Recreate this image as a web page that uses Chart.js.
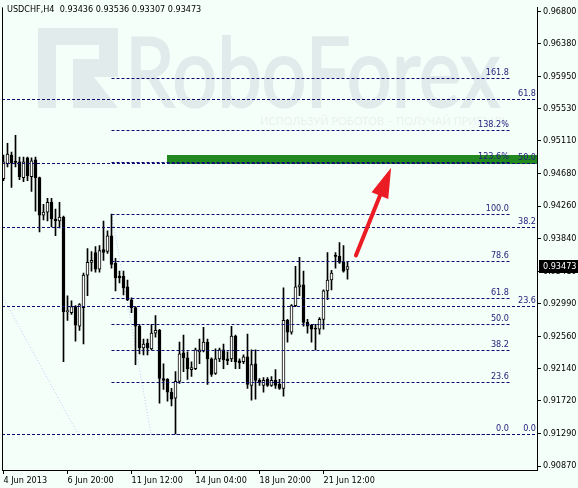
<!DOCTYPE html>
<html>
<head>
<meta charset="utf-8">
<script src="https://cdn.jsdelivr.net/npm/chart.js@4.4.1/dist/chart.umd.min.js"></script>
<style>
html,body{margin:0;padding:0;background:#f5fffa;}
canvas{display:block;}
</style>
</head>
<body>
<canvas id="c" width="578" height="488"></canvas>
<script>
// ---------- data ----------
const symbolTitle = "USDCHF,H4  0.93436 0.93536 0.93307 0.93473";
const opens  = [0.94618,0.94811,0.94926,0.94836,0.94836,0.94631,0.94888,0.94644,0.94862,0.94631,
                0.94143,0.94182,0.94310,0.94092,0.94066,0.94117,0.92885,0.92872,0.92950,0.92693,
                0.92937,0.93360,0.93527,0.93655,0.93437,0.93694,0.93668,0.93874,0.93514,0.93347,
                0.93347,0.93206,0.93039,0.92937,0.92693,0.92410,0.92475,0.92398,0.92603,0.92641,
                0.92012,0.92000,0.91833,0.91756,0.91974,0.92346,0.92282,0.92128,0.92141,0.92359,
                0.92372,0.92487,0.92269,0.92077,0.92269,0.92385,0.92269,0.92269,0.92564,0.92244,
                0.92231,0.92295,0.91923,0.92205,0.91987,0.91923,0.92000,0.91923,0.91987,0.91935,
                0.91884,0.92770,0.92616,0.92962,0.93206,0.93232,0.92744,0.92706,0.92667,0.92654,
                0.92783,0.93155,0.93296,0.93617,0.93604,0.93527,0.93436];
const highs  = [0.94926,0.95080,0.94965,0.95183,0.94900,0.94900,0.94900,0.94888,0.94900,0.94640,
                0.94284,0.94361,0.94361,0.94220,0.94310,0.94130,0.93091,0.93026,0.92962,0.92988,
                0.93386,0.93707,0.93668,0.93732,0.93745,0.94066,0.93938,0.94156,0.93578,0.93412,
                0.93412,0.93296,0.93065,0.92950,0.92718,0.92526,0.92526,0.92718,0.92834,0.92654,
                0.92205,0.92010,0.91884,0.92102,0.92487,0.92577,0.92359,0.92231,0.92410,0.92526,
                0.92680,0.92526,0.92282,0.92398,0.92410,0.92462,0.92359,0.92693,0.92577,0.92269,
                0.92321,0.92590,0.92385,0.92385,0.92012,0.92025,0.92025,0.92038,0.92128,0.92000,
                0.93193,0.92783,0.92975,0.93476,0.93591,0.93412,0.92783,0.92718,0.92718,0.92808,
                0.93168,0.93655,0.93424,0.93655,0.93784,0.93745,0.93536];
const lows   = [0.94592,0.94772,0.94503,0.94772,0.94605,0.94580,0.94592,0.94451,0.94194,0.93925,
                0.94079,0.94066,0.93989,0.93874,0.93976,0.92231,0.92770,0.92847,0.92500,0.92640,
                0.92462,0.93091,0.93412,0.93399,0.93399,0.93553,0.93643,0.93450,0.93155,0.93258,
                0.93103,0.93026,0.92872,0.92192,0.92333,0.92321,0.92321,0.92385,0.92552,0.91692,
                0.91871,0.91717,0.91653,0.91290,0.91948,0.92102,0.92000,0.92038,0.92128,0.92205,
                0.92359,0.91935,0.92038,0.92064,0.92231,0.92141,0.92192,0.92231,0.92141,0.92141,
                0.92205,0.91884,0.91730,0.91743,0.91923,0.91833,0.91910,0.91910,0.91884,0.91870,
                0.91781,0.92487,0.92590,0.92950,0.93091,0.92693,0.92603,0.92487,0.92385,0.92590,
                0.92654,0.93039,0.93168,0.93450,0.93514,0.93399,0.93307];
const closes = [0.94836,0.94939,0.94823,0.94830,0.94644,0.94836,0.94656,0.94849,0.94631,0.94143,
                0.94182,0.94310,0.94092,0.94066,0.94117,0.92885,0.92898,0.92950,0.92706,0.92975,
                0.93360,0.93527,0.93553,0.93437,0.93681,0.93655,0.93874,0.93501,0.93322,0.93322,
                0.93193,0.93039,0.92937,0.92693,0.92410,0.92462,0.92410,0.92603,0.92641,0.92012,
                0.91987,0.91833,0.91743,0.91974,0.92333,0.92282,0.92141,0.92154,0.92385,0.92385,
                0.92487,0.92269,0.92064,0.92269,0.92385,0.92256,0.92244,0.92564,0.92231,0.92218,
                0.92295,0.91935,0.92192,0.91987,0.91961,0.91987,0.91923,0.91987,0.91923,0.91884,
                0.92770,0.92616,0.92962,0.93206,0.93232,0.92744,0.92693,0.92654,0.92654,0.92783,
                0.93155,0.93296,0.93386,0.93604,0.93527,0.93412,0.93473];

const yTickValues = [0.96800,0.96380,0.95950,0.95530,0.95110,0.94680,0.94260,0.93840,
                     0.93410,0.92990,0.92560,0.92140,0.91720,0.91290,0.90870];
const xTickBars   = [0,16,32,48,64,80];
const xTickLabels = ["4 Jun 2013","6 Jun 20:00","11 Jun 12:00","14 Jun 04:00","18 Jun 20:00","21 Jun 12:00"];

// Fibonacci grid A (long-term): anchors and levels
const fibAHigh = 0.98356, fibALow = 0.91290;
const fibALevels = [0, 23.6, 38.2, 50.0, 61.8];
const fibALabels = ["0.0","23.6","38.2","50.0","61.8"];
const fibAAnchorBars = [-55.7, 18.6];
// Fibonacci grid B (short-term)
const fibBHigh = 0.94156, fibBLow = 0.91290;
const fibBLevels = [0, 23.6, 38.2, 50.0, 61.8, 78.6, 100.0, 123.6, 138.2, 161.8];
const fibBLabels = ["0.0","23.6","38.2","50.0","61.8","78.6","100.0","123.6%","138.2%","161.8"];
const fibBAnchorBars = [27, 36.9];
const fibBEndBar = 126.6;
// target zone and arrow
const zoneTop = 0.94926, zoneBottom = 0.94811, zoneStartBar = 40.9;
const arrowFrom = [88.1, 0.93617], arrowTo = [96.9, 0.94759];
const lastPrice = 0.93473;

const Y_MIN = 0.90819, Y_MAX = 0.96851;
const FONT = '"DejaVu Sans Condensed", "Liberation Sans", sans-serif';
const LINE_COL = '#0c0c70';
const TEXT_COL = '#22227c';

// ---------- plugins ----------
const backgroundPlugin = {
  id: 'bgwm',
  beforeDraw(chart) {
    const ctx = chart.ctx;
    ctx.save();
    ctx.fillStyle = '#f5fffa';
    ctx.fillRect(0, 0, chart.width, chart.height);
    // watermark logo
    ctx.fillStyle = '#e1ebeb';
    ctx.strokeStyle = '#e1ebeb';
    ctx.fillRect(38, 28, 18, 80);
    ctx.fillRect(38, 28, 80, 17);
    ctx.fillRect(99, 28, 19, 49);
    ctx.fillRect(73, 59, 45, 18);
    ctx.beginPath();
    ctx.moveTo(73, 77); ctx.lineTo(94, 77); ctx.lineTo(118, 108); ctx.lineTo(73, 108);
    ctx.closePath(); ctx.fill();
    ctx.font = '97px Lato, "Open Sans", sans-serif';
    ctx.textBaseline = 'alphabetic';
    ctx.textAlign = 'left';
    ctx.lineWidth = 2;
    ctx.fillText('RoboForex', 125, 107, 375);
    ctx.strokeText('RoboForex', 125, 107, 375);
    ctx.fillStyle = '#e9f1f0';
    ctx.font = '11px Lato, "Open Sans", sans-serif';
    ctx.fillText('ИСПОЛЬЗУЙ РОБОТОВ – ПОЛУЧАЙ ПРИБЫЛЬ', 260, 125, 258);
    ctx.restore();
  }
};

function dashedH(ctx, x1, x2, y) {
  const yy = Math.round(y) + 0.5;
  ctx.beginPath();
  ctx.moveTo(x1, yy); ctx.lineTo(x2, yy);
  ctx.stroke();
}

const underPlugin = {
  id: 'under',
  beforeDatasetsDraw(chart) {
    const {ctx, chartArea: a, scales: {x, y}} = chart;
    ctx.save();
    ctx.beginPath(); ctx.rect(a.left, a.top, a.right - a.left, a.bottom - a.top); ctx.clip();
    // faint fib trend lines
    ctx.strokeStyle = 'rgba(170,185,235,0.75)';
    ctx.lineWidth = 1;
    ctx.setLineDash([1, 2]);
    ctx.beginPath();
    ctx.moveTo(x.getPixelForValue(fibAAnchorBars[0]), y.getPixelForValue(fibAHigh));
    ctx.lineTo(x.getPixelForValue(fibAAnchorBars[1]), y.getPixelForValue(fibALow));
    ctx.stroke();
    ctx.beginPath();
    ctx.moveTo(x.getPixelForValue(fibBAnchorBars[0]), y.getPixelForValue(fibBHigh));
    ctx.lineTo(x.getPixelForValue(fibBAnchorBars[1]), y.getPixelForValue(fibBLow));
    ctx.stroke();
    ctx.setLineDash([]);
    // green target zone
    ctx.fillStyle = '#21891f';
    const zx = x.getPixelForValue(zoneStartBar);
    const zt = y.getPixelForValue(zoneTop), zb = y.getPixelForValue(zoneBottom);
    ctx.fillRect(Math.round(zx), Math.round(zt), a.right - Math.round(zx), Math.round(zb) - Math.round(zt));
    ctx.restore();
  },
  afterDatasetsDraw(chart) {
    const {ctx, chartArea: a, scales: {x, y}} = chart;
    ctx.save();
    ctx.beginPath(); ctx.rect(a.left, a.top, a.right - a.left, a.bottom - a.top); ctx.clip();
    ctx.strokeStyle = LINE_COL;
    ctx.lineWidth = 1;
    ctx.setLineDash([3, 2]);
    ctx.font = '9px ' + FONT;
    ctx.fillStyle = TEXT_COL;
    ctx.textAlign = 'right';
    ctx.textBaseline = 'bottom';
    // grid A
    fibALevels.forEach((lv, k) => {
      const py = y.getPixelForValue(fibALow + (fibAHigh - fibALow) * lv / 100);
      dashedH(ctx, a.left, a.right, py);
      ctx.fillText(fibALabels[k], a.right - 1, Math.round(py) - 1);
    });
    // grid B
    const bx1 = x.getPixelForValue(fibBAnchorBars[0]);
    const bx2 = x.getPixelForValue(fibBEndBar);
    fibBLevels.forEach((lv, k) => {
      const py = y.getPixelForValue(fibBLow + (fibBHigh - fibBLow) * lv / 100);
      dashedH(ctx, bx1, bx2, py);
      ctx.fillText(fibBLabels[k], bx2 - 1, Math.round(py) - 1);
    });
    ctx.setLineDash([]);
    // red arrow
    const x1 = x.getPixelForValue(arrowFrom[0]), y1 = y.getPixelForValue(arrowFrom[1]);
    const x2 = x.getPixelForValue(arrowTo[0]), y2 = y.getPixelForValue(arrowTo[1]);
    const dx = x2 - x1, dy = y2 - y1, len = Math.hypot(dx, dy);
    const ux = dx / len, uy = dy / len;
    const headLen = 30, headHalf = 9;
    const bxp = x2 - ux * headLen, byp = y2 - uy * headLen;
    ctx.strokeStyle = '#ec1c24';
    ctx.fillStyle = '#ec1c24';
    ctx.lineWidth = 4;
    ctx.lineCap = 'round';
    ctx.beginPath();
    ctx.moveTo(x1, y1); ctx.lineTo(bxp + ux * 4, byp + uy * 4);
    ctx.stroke();
    ctx.beginPath();
    ctx.moveTo(x2, y2);
    ctx.lineTo(bxp - uy * headHalf, byp + ux * headHalf);
    ctx.lineTo(bxp + uy * headHalf, byp - ux * headHalf);
    ctx.closePath();
    ctx.fill();
    ctx.restore();
  },
  afterDraw(chart) {
    const {ctx, chartArea: a, scales: {y}} = chart;
    ctx.save();
    // frame left
    ctx.strokeStyle = '#000';
    ctx.lineWidth = 1;
    ctx.beginPath();
    ctx.moveTo(a.left + 0.5, a.bottom); ctx.lineTo(a.left + 0.5, a.top);
    ctx.stroke();
    // title
    ctx.fillStyle = '#000';
    ctx.font = '9px ' + FONT;
    ctx.textAlign = 'left';
    ctx.textBaseline = 'middle';
    ctx.fillText(symbolTitle, 7, 10);
    // last price marker
    const py = Math.round(y.getPixelForValue(lastPrice));
    ctx.fillStyle = '#000';
    ctx.fillRect(a.right + 2, py - 6, chart.width - a.right - 2, 13);
    ctx.fillStyle = '#fff';
    ctx.fillText(lastPrice.toFixed(5), a.right + 6, py + 0.5);
    ctx.restore();
  }
};

// ---------- chart ----------
const wickData = highs.map((h, i) => ({x: i, y: [lows[i], h]}));
const bodyData = opens.map((o, i) => ({x: i, y: [o, closes[i]]}));
const bodyColors = opens.map((o, i) => closes[i] >= o ? '#ffffff' : '#000000');

new Chart(document.getElementById('c'), {
  type: 'bar',
  data: {
    datasets: [
      {label: 'body', data: bodyData, backgroundColor: bodyColors, borderColor: '#000', borderWidth: 1,
       borderSkipped: false, barThickness: 3, minBarLength: 1, grouped: false, order: 0},
      {label: 'wick', data: wickData, backgroundColor: '#000', borderWidth: 0,
       barThickness: 1, minBarLength: 1, grouped: false, order: 1}
    ]
  },
  options: {
    responsive: false,
    animation: false,
    events: [],
    layout: {padding: {left: 2, top: 0, right: 0, bottom: 0}},
    plugins: {legend: {display: false}, tooltip: {enabled: false}, title: {display: false}},
    scales: {
      x: {
        type: 'linear', min: -0.375, max: 133.375, offset: false,
        grid: {drawOnChartArea: false, drawTicks: true, tickLength: 4, color: '#000', offset: false},
        border: {display: true, color: '#000'},
        afterBuildTicks: s => { s.ticks = xTickBars.map(v => ({value: v})); },
        afterFit: s => { s.height = 18; },
        ticks: {autoSkip: false, maxRotation: 0, minRotation: 0, align: 'start', padding: 1,
                color: '#000', font: {family: FONT, size: 9},
                callback: v => { const k = xTickBars.indexOf(v); return k >= 0 ? xTickLabels[k] : ''; }}
      },
      y: {
        type: 'linear', position: 'right', min: Y_MIN, max: Y_MAX, beginAtZero: false,
        grid: {drawOnChartArea: false, drawTicks: true, tickLength: 4, color: '#000'},
        border: {display: true, color: '#000'},
        afterBuildTicks: s => { s.ticks = yTickValues.map(v => ({value: v})); },
        afterFit: s => { s.width = 41; },
        ticks: {padding: 2, color: '#000', font: {family: FONT, size: 9},
                callback: v => Number(v).toFixed(5)}
      }
    }
  },
  plugins: [backgroundPlugin, underPlugin]
});
</script>
</body>
</html>
